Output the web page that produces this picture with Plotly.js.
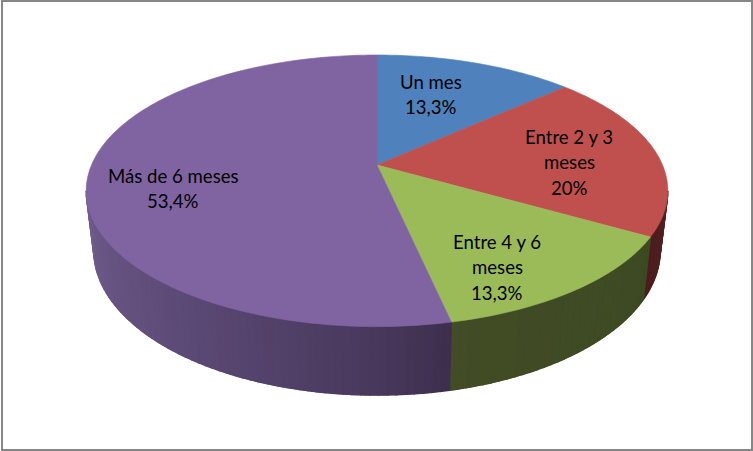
<!DOCTYPE html>
<html>
<head>
<meta charset="utf-8">
<script src="https://cdn.plot.ly/plotly-3.0.1.min.js"></script>
<style>html,body{margin:0;padding:0;background:#fff;overflow:hidden}#c{width:753px;height:451px}</style>
</head>
<body>
<div id="c"></div>
<script>
const categories = ["Un mes", "Entre 2 y 3 meses", "Entre 4 y 6 meses", "Más de 6 meses"];
const values = [13.3, 20, 13.3, 53.4];
const labelLines = [["Un mes", "13,3%"], ["Entre 2 y 3", "meses", "20%"], ["Entre 4 y 6", "meses", "13,3%"], ["Más de 6 meses", "53,4%"]];
const topColors = ["#4f81bd", "#c0504d", "#9bbb59", "#8064a2"];

// Anchors of the first text line of each label, in picture pixels
const labelX = [431, 569, 497, 173];
const labelY = [82, 137, 242, 175.5];
const lineStep = 25.3;

// Perspective projection of the pie's disc onto the picture
const K = 0.19;
const topFace = {cx: 377, cy: 165, a: 285.5, b: 130.9};
const lowFace = {cx: 377, cy: 223, a: 278, b: 139.4};
function project(f, deg) {
  const t = deg * Math.PI / 180, u = Math.sin(t), v = Math.cos(t), w = 1 + K * v;
  return [f.cx + f.a * u / w, f.cy - f.b * v / w];
}
function arc(f, a0, a1) {
  const n = Math.max(2, Math.ceil(Math.abs(a1 - a0)));
  const out = [];
  for (let i = 0; i <= n; i++) out.push(project(f, a0 + (a1 - a0) * i / n));
  return out;
}
function poly(points, color, width) {
  return {
    type: "scatter", mode: "lines", fill: "toself", fillcolor: color,
    x: points.map(p => p[0]), y: points.map(p => p[1]),
    line: {color: color, width: width, simplify: false},
    hoverinfo: "skip", showlegend: false
  };
}
function lerpStops(stops, t) {
  for (let i = 1; i < stops.length; i++) {
    if (t <= stops[i][0]) {
      const s = stops[i - 1], e = stops[i], r = (t - s[0]) / (e[0] - s[0]);
      return "rgb(" + [1, 2, 3].map(k => Math.round(s[k] + (e[k] - s[k]) * r)).join(",") + ")";
    }
  }
  const l = stops[stops.length - 1];
  return "rgb(" + l[1] + "," + l[2] + "," + l[3] + ")";
}

const total = values.reduce((a, b) => a + b, 0);
const edges = [0];
values.forEach(v => edges.push(edges[edges.length - 1] + v / total * 360));

// Shading of the outer wall, by slice, as a function of the angle
const wallShades = [
  null,
  [[100, 84, 34, 34], [121, 76, 28, 30]],
  [[119, 60, 74, 34], [169, 66, 76, 38]],
  [[167, 61, 46, 76], [180, 72, 56, 92], [215, 92, 74, 118], [262, 114, 94, 142]]
];
const SIL0 = 101, SIL1 = 259;  // silhouette of the visible wall
const traces = [];
values.forEach((v, i) => {
  const a0 = Math.max(edges[i], SIL0), a1 = Math.min(edges[i + 1], SIL1);
  if (a1 <= a0) return;
  // solid base under the strips, then overlapping shaded strips
  const base = arc(topFace, a0, a1).concat(arc(lowFace, a1, a0));
  base.push(base[0]);
  traces.push(poly(base, lerpStops(wallShades[i], (a0 + a1) / 2), 0.6));
  const n = Math.ceil((a1 - a0) / 1.5);
  for (let j = 0; j < n; j++) {
    const s = a0 + (a1 - a0) * j / n, e = a0 + (a1 - a0) * (j + 1) / n;
    const pts = arc(topFace, s, e).concat(arc(lowFace, e, s));
    pts.push(pts[0]);
    traces.push(poly(pts, lerpStops(wallShades[i], (s + e) / 2), 1.4));
  }
});
values.forEach((v, i) => {
  const pts = [[topFace.cx, topFace.cy]].concat(arc(topFace, edges[i], edges[i + 1]));
  pts.push(pts[0]);
  traces.push(poly(pts, topColors[i], 0.6));
});

const annotations = [];
labelLines.forEach((lines, i) => {
  lines.forEach((txt, j) => {
    annotations.push({
      x: labelX[i], y: labelY[i] + j * lineStep, xref: "x", yref: "y",
      text: txt, showarrow: false, xanchor: "center", yanchor: "middle",
      font: {family: "Lato, Carlito, sans-serif", size: 18.6, color: "#000"}
    });
  });
});

const hidden = {visible: false, fixedrange: true};
Plotly.newPlot("c", traces, {
  width: 753, height: 451,
  margin: {l: 0, r: 0, t: 0, b: 0, pad: 0},
  paper_bgcolor: "#fff", plot_bgcolor: "#fff",
  showlegend: false,
  xaxis: Object.assign({range: [0, 753]}, hidden),
  yaxis: Object.assign({range: [451, 0]}, hidden),
  shapes: [{type: "rect", xref: "x", yref: "y", x0: 2, y0: 1, x1: 752, y1: 450,
            line: {color: "#868686", width: 2}, fillcolor: "rgba(0,0,0,0)", layer: "above"}],
  annotations: annotations
}, {displayModeBar: false, staticPlot: true});
</script>
</body>
</html>
